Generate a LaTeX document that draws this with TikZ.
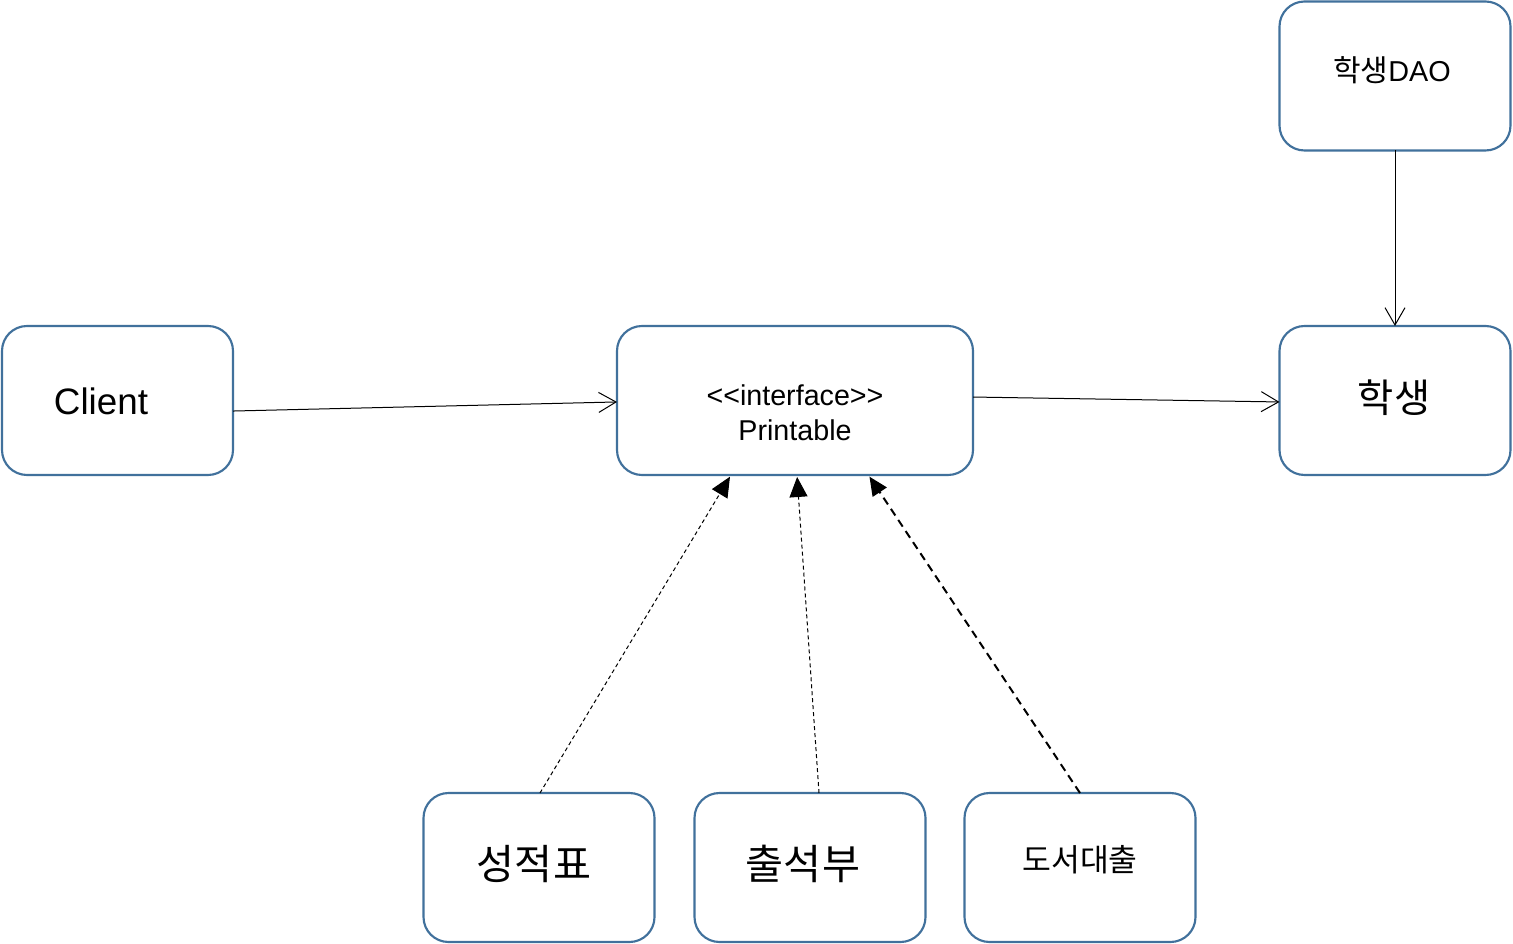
\documentclass[tikz,border=0pt]{standalone}
\usepackage{fontspec}
\setmainfont{Liberation Sans}
\newfontfamily\kr{Noto Sans CJK KR}
\usetikzlibrary{arrows.meta}
\definecolor{boxblue}{HTML}{41719C}
\tikzset{
  cls/.style={draw=boxblue, line width=1.6pt, rounded corners=18.75pt, minimum width=173.25pt, minimum height=111.75pt, inner sep=0pt, outer sep=0pt, fill=white},
  lbl/.style={inner sep=0pt, text=black},
  assoc/.style={line width=0.75pt, -{Straight Barb[length=13pt,width=15pt,line width=0.75pt]}},
  realize/.style={line width=0.75pt, dash pattern=on 3pt off 2.25pt, -{Triangle[length=15pt,width=13.5pt]}, shorten >=1.5pt},
  realizethick/.style={line width=1.5pt, dash pattern=on 6pt off 4pt, -{Triangle[length=14pt,width=12.5pt]}, shorten >=1.5pt}
}
\begin{document}
\begin{tikzpicture}[x=0.75pt,y=-0.75pt]
\useasboundingbox[fill=white] (0,0) rectangle (1513,944);
% boxes
\node[cls] (dao) at (1395,76) {};
\node[cls] (client) at (117.5,400.5) {};
\node[cls, minimum width=267pt] (pr) at (795,400.5) {};
\node[cls] (st) at (1395,400.5) {};
\node[cls] (grade) at (539,867.5) {};
\node[cls] (att) at (810,867.5) {};
\node[cls] (lib) at (1080,867.5) {};
% labels
\node[lbl, font=\fontsize{21.6}{26}\selectfont] (daot) at (1392,70) {{\kr\fontsize{22.5}{26}\selectfont 학생}DAO};
\node[lbl, font=\fontsize{27.6}{33}\selectfont] (clientt) at (101,401) {Client};
\node[lbl, align=center, font=\fontsize{21.5}{26.25}\selectfont] (prt) at (795,413) {<{}<interface>{}>\\Printable};
\node[lbl, font=\kr\fontsize{29.5}{34}\selectfont] (stt) at (1394,398) {학생};
\node[lbl, font=\kr\fontsize{31}{36}\selectfont] (gradet) at (534,864) {성적표};
\node[lbl, font=\kr\fontsize{31}{36}\selectfont] (attt) at (803,864) {출석부};
\node[lbl, font=\kr\fontsize{23.5}{28}\selectfont] (libt) at (1080,860) {도서대출};
% connectors
\draw[assoc] ([yshift=-7.9pt]client.east) -- ([yshift=-1.1pt]pr.west);
\draw[assoc] ([yshift=2.6pt]pr.east) -- ([yshift=-1.1pt]st.west);
\draw[assoc] (dao.south) -- (st.north);
\draw[realize] ([xshift=0.75pt]grade.north) -- ([xshift=-48pt]pr.south);
\draw[realize] ([xshift=6.75pt]att.north) -- ([xshift=1.5pt]pr.south);
\draw[realizethick] (lib.north) -- ([xshift=55pt]pr.south);
\end{tikzpicture}
\end{document}
